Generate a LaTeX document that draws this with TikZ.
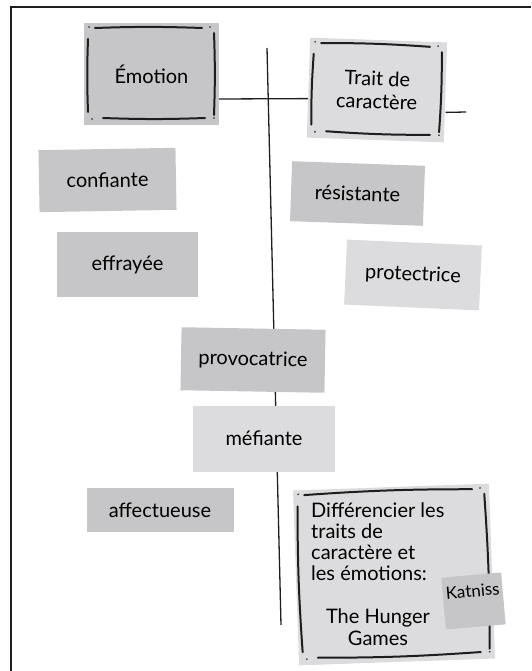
\documentclass[tikz,border=0pt]{standalone}
\usepackage{fontspec}
\setmainfont{Lato}
\usetikzlibrary{backgrounds,calc}

\definecolor{carddark}{HTML}{C6C6C8}
\definecolor{cardlight}{HTML}{DCDCDE}
\definecolor{ink}{HTML}{1E1E1E}

% hand-drawn frame inside a card: #1 node, #2 half width, #3 half height, #4 angle
\newcommand{\sketchframe}[4]{%
  \begin{scope}[shift={(#1.center)},rotate=#4]
    \draw[sketch] (-#2pt+11pt,#3pt-5pt) to[bend left=2] (#2pt-17pt,#3pt-5pt);
    \draw[sketch] (-#2pt+19pt,-#3pt+7pt) to[bend right=2] (#2pt-14pt,-#3pt+7pt);
    \draw[sketch] (-#2pt+4pt,#3pt-16pt) to[bend right=2] (-#2pt+4pt,-#3pt+13pt);
    \draw[sketch] (#2pt-5pt,#3pt-10pt) to[bend left=2] (#2pt-5pt,-#3pt+10pt);
    \fill[ink] (-#2pt+5pt,#3pt-4pt) circle (0.9pt);
    \fill[ink] (#2pt-9pt,#3pt-4pt) circle (0.9pt);
    \fill[ink] (-#2pt+8pt,-#3pt+6pt) circle (0.9pt);
    \fill[ink] (#2pt-5pt,-#3pt+7pt) circle (0.9pt);
  \end{scope}}

\begin{document}
\begin{tikzpicture}[x=1pt,y=-1pt,font=\fontsize{20}{23}\selectfont]

  \tikzstyle{card}=[rectangle,fill=carddark,align=center,inner sep=0pt]
  \tikzstyle{pale card}=[card,fill=cardlight]
  \tikzstyle{axis}=[draw=ink,line width=1.3pt]
  \tikzstyle{sketch}=[ink,line width=2pt,line cap=round]

  \useasboundingbox (0,0) rectangle (531,671);
  \draw[ink,line width=1.5pt] (11,671) -- (11,7) -- (531,7);

  % headings
  \node[card,minimum width=135pt,minimum height=102pt]           (emo)   at (151.5,74)  {Émotion};
  \node[pale card,minimum width=137pt,minimum height=100pt,rotate=-2] (trait) at (377,90) {Trait de\\caractère};
  \sketchframe{emo}{67.5}{51}{0}
  \sketchframe{trait}{68.5}{50}{-2}

  % words
  \node[card,minimum width=137pt,minimum height=62pt,rotate=1]        (conf)  at (107.5,180) {confiante};
  \node[card,minimum width=141pt,minimum height=65pt]                 (effr)  at (127.5,264.5) {effrayée};
  \node[card,minimum width=133pt,minimum height=60pt,rotate=-2]       (resis) at (357.5,193.5) {résistante};
  \node[pale card,minimum width=135pt,minimum height=65pt,rotate=-2.5] (prot) at (413,275)   {protectrice};
  \node[card,minimum width=144pt,minimum height=63pt,rotate=-1]       (provo) at (253,360)   {provocatrice};
  \node[pale card,minimum width=142pt,minimum height=66pt]            (mef)   at (264,438.5) {méfiante};
  \node[card,minimum width=147pt,minimum height=44pt]                 (affec) at (160,510)   {affectueuse};

  % title card
  \node[pale card,minimum width=196pt,minimum height=175pt,rotate=2]  (diff)  at (394,574.5) {};
  \sketchframe{diff}{98}{87.5}{2}
  \node[align=left,anchor=north west,inner sep=0pt,font=\fontsize{20}{21}\selectfont] (difftxt) at (311,503)
    {Différencier les\\traits de\\caractère et\\les émotions:};
  \node[align=center,inner sep=0pt,font=\fontsize{20}{22}\selectfont] (hunger) at (378,627) {The Hunger\\Games};
  \node[card,rotate=5,minimum width=60pt,inner ysep=10pt,text height=12pt,text depth=20pt,
        font=\fontsize{17}{17}\selectfont] (kat) at (473.5,601) {Katniss};

  % T-chart axes
  \coordinate (vtop) at (267,48);
  \coordinate (vbot) at (281,625);
  \coordinate (hend) at (466,112);
  \begin{pgfonlayer}{background}
    \draw[axis] (vtop) -- (vbot);
    \draw[axis] ([yshift=-25pt]emo.east) -- ([yshift=-11pt]trait.west);
    \draw[axis] ([yshift=-20pt]trait.east) -- (hend);
  \end{pgfonlayer}
\end{tikzpicture}
\end{document}
